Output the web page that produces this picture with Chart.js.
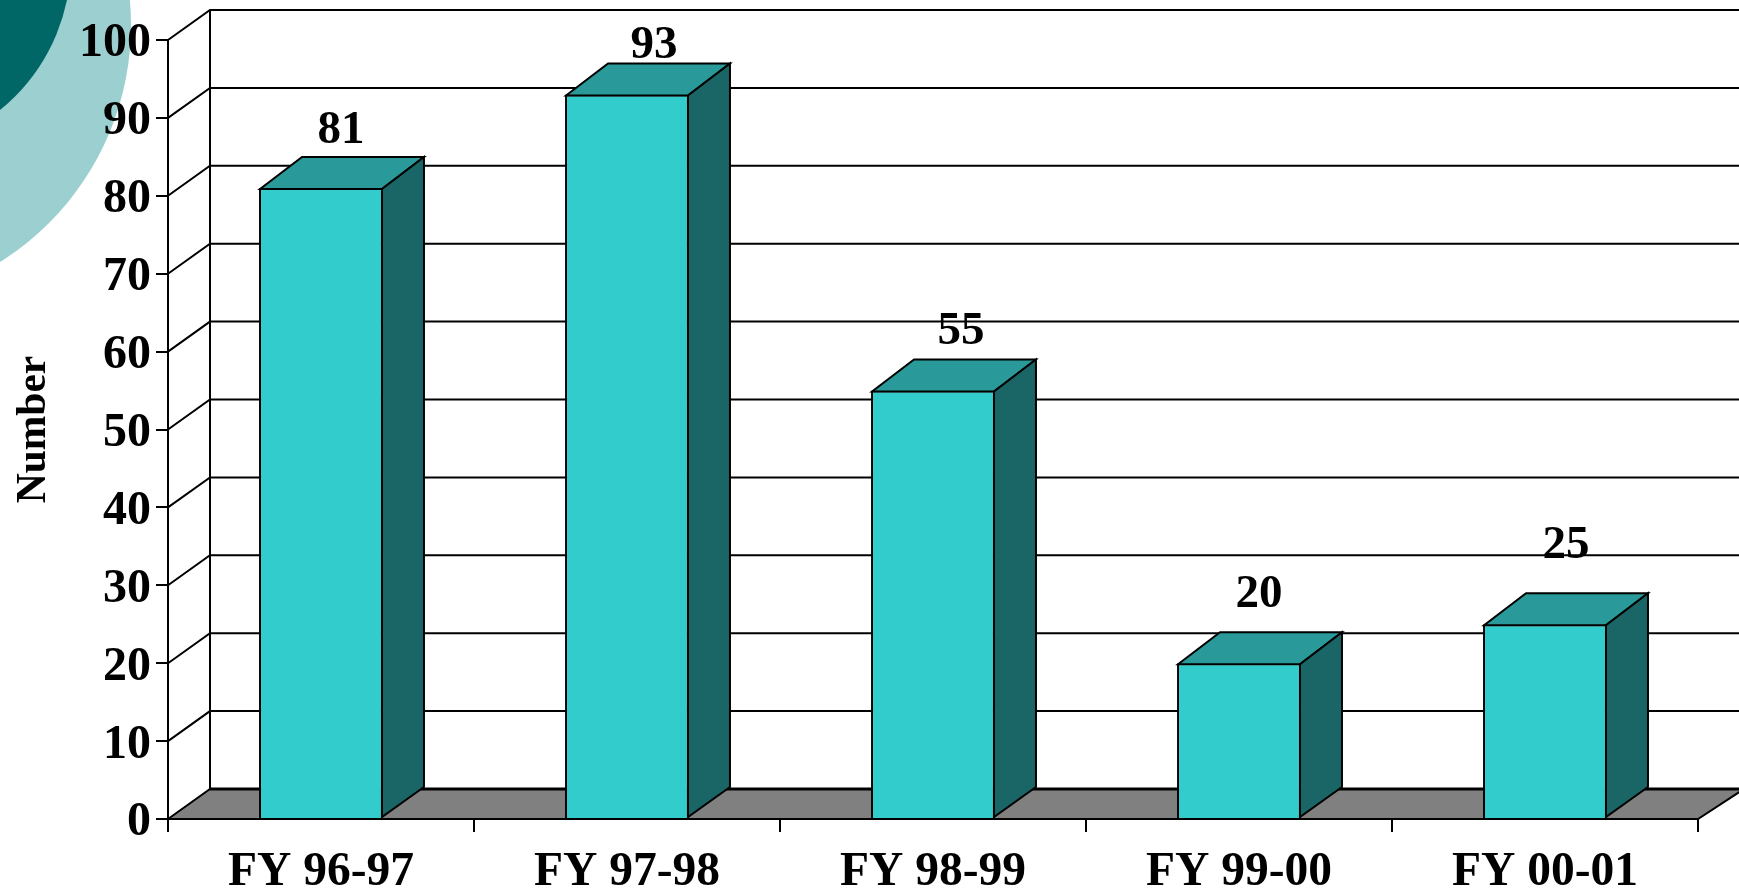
<!DOCTYPE html>
<html>
<head>
<meta charset="utf-8">
<title>Number by fiscal year</title>
<script src="https://cdn.jsdelivr.net/npm/chart.js@4"></script>
<style>
  html, body { margin: 0; padding: 0; background: #fff; overflow: hidden; }
  #wrap { position: relative; width: 1739px; height: 891px; }
</style>
</head>
<body>
<div id="wrap"><canvas id="myChart" width="1739" height="891"></canvas></div>
<script>
const categories = ['FY 96-97', 'FY 97-98', 'FY 98-99', 'FY 99-00', 'FY 00-01'];
const counts = [81, 93, 55, 20, 25];
const yMin = 0;
const yMax = 100;
const yStep = 10;
const yTitle = 'Number';

// 3d look, the depth of the box in pixels
const depthX = 42;
const depthY = 30;
const capDepthY = 32; // bar tops lean a bit more than the floor
// value labels do not sit at a fixed spot above the bars in the original
const labelShiftX = [20, 27, 28, 20, 21];
const labelGap = [15, 7, 17, 26, 36];

const fontFamily = '"Liberation Serif", "Times New Roman", serif';

function poly(c, pts, fill) {
  c.beginPath();
  c.moveTo(pts[0][0], pts[0][1]);
  for (let i = 1; i < pts.length; i++) c.lineTo(pts[i][0], pts[i][1]);
  c.closePath();
  if (fill) { c.fillStyle = fill; c.fill(); }
  c.stroke();
}

/* 배경, 바닥, 벽 */
const backdrop = {
  id: 'backdrop',
  afterLayout(chart) {
    // y labels sit a little below the tick in the original
    chart.scales.y.getLabelItems().forEach((item) => { item.textOffset += 4; });
  },
  beforeDraw(chart) {
    const c = chart.ctx;
    const a = chart.chartArea;
    const y = chart.scales.y;
    c.save();

    // corner decoration of the slide
    c.fillStyle = '#9CCFCF';
    c.beginPath(); c.arc(-149, 25, 280, 0, Math.PI * 2); c.fill();
    c.fillStyle = '#006666';
    c.beginPath(); c.arc(-121, -39, 192, 0, Math.PI * 2); c.fill();

    c.strokeStyle = '#000';
    c.lineWidth = 2;

    // floor
    poly(c, [
      [a.left, a.bottom],
      [a.left + depthX, a.bottom - depthY],
      [chart.width + 5, a.bottom - depthY],
      [a.right, a.bottom]
    ], '#808080');
    c.lineWidth = 3;
    c.beginPath();
    c.moveTo(a.left + depthX, a.bottom - depthY);
    c.lineTo(chart.width, a.bottom - depthY);
    c.stroke();
    c.lineWidth = 2;

    // gridlines on both walls
    for (let v = yMin + yStep; v <= yMax; v += yStep) {
      const py = y.getPixelForValue(v);
      c.beginPath();
      c.moveTo(a.left, py);
      c.lineTo(a.left + depthX, py - depthY);
      c.lineTo(chart.width, py - depthY);
      c.stroke();
    }
    c.beginPath();
    c.moveTo(a.left + depthX, a.top - depthY);
    c.lineTo(a.left + depthX, a.bottom - depthY);
    c.stroke();
    c.restore();
  }
};

/* 막대 윗면, 옆면 */
const boxFaces = {
  id: 'boxFaces',
  afterDatasetsDraw(chart) {
    const c = chart.ctx;
    const bars = chart.getDatasetMeta(0).data;
    c.save();
    c.strokeStyle = '#000';
    c.lineWidth = 2;
    bars.forEach((bar) => {
      // library strokes the border inside the bar, so go 1px in to join it
      const l = bar.x - bar.width / 2 + 1;
      const r = bar.x + bar.width / 2 - 1;
      const t = bar.y + 1;
      const b = bar.base - 1;
      poly(c, [[l, t], [l + depthX, t - capDepthY], [r + depthX, t - capDepthY], [r, t]], '#299999');
      poly(c, [[r, t], [r + depthX, t - capDepthY], [r + depthX, b - depthY], [r, b]], '#1A6666');
    });
    c.fillStyle = '#000';
    c.font = 'bold 47px ' + fontFamily;
    c.textAlign = 'center';
    c.textBaseline = 'alphabetic';
    bars.forEach((bar, i) => {
      c.fillText(String(counts[i]), bar.x + labelShiftX[i], bar.y - depthY - labelGap[i]);
    });
    c.restore();
  }
};

const ctx = document.getElementById('myChart');
var myChart = new Chart(ctx, {
  type: 'bar',
  data: {
    labels: categories,
    datasets: [{
      data: counts,
      backgroundColor: '#33CCCC',
      borderColor: '#000',
      borderWidth: 2,
      barPercentage: 0.405,
      categoryPercentage: 1
    }]
  },
  plugins: [backdrop, boxFaces],
  options: {
    responsive: false,
    animation: false,
    layout: { padding: { top: 40, right: 41, left: 0, bottom: 0 } },
    plugins: {
      legend: { display: false },
      title: { display: false },
      tooltip: { enabled: false }
    },
    scales: {
      x: {
        afterFit(scale) { scale.height = 72; },
        border: { color: '#000', width: 2 },
        grid: { drawOnChartArea: false, color: '#000', lineWidth: 2, tickLength: 13, offset: true },
        ticks: {
          color: '#000',
          padding: 12,
          maxRotation: 0,
          font: { family: fontFamily, size: 47.5, weight: 'bold' }
        }
      },
      y: {
        min: yMin,
        max: yMax,
        afterFit(scale) { scale.width = 168; },
        border: { color: '#000', width: 2 },
        grid: { drawOnChartArea: false, color: '#000', lineWidth: 2, tickLength: 12 },
        ticks: {
          stepSize: yStep,
          color: '#000',
          padding: 5,
          font: { family: fontFamily, size: 48, weight: 'bold' }
        },
        title: {
          display: true,
          text: yTitle,
          color: '#000',
          padding: { top: 9, bottom: 0 },
          font: { family: fontFamily, size: 41.5, weight: 'bold' }
        }
      }
    }
  }
});
</script>
</body>
</html>
